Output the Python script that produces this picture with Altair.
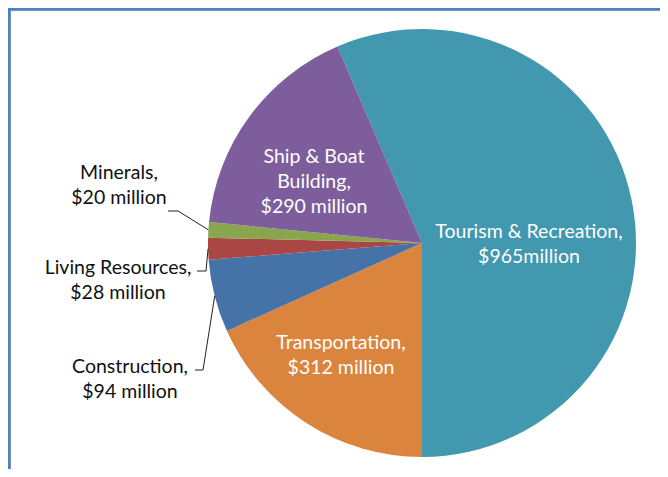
import math
import altair as alt
import pandas as pd

# ---- data ----
categories = ["Tourism & Recreation", "Transportation", "Construction",
              "Living Resources", "Minerals", "Ship & Boat Building"]
values = [965, 312, 94, 28, 20, 290]
label_lines = [
    ["Tourism & Recreation,", "$965million"],
    ["Transportation,", "$312 million"],
    ["Construction,", "$94 million"],
    ["Living Resources,", "$28 million"],
    ["Minerals,", "$20 million"],
    ["Ship & Boat", "Building,", "$290 million"],
]
colors = ["#4198AF", "#DB843D", "#4572A7", "#AA4643", "#89A54E", "#7E5D9C"]

# ---- layout (pixels, chart coordinates) ----
W, H = 652, 461
CX, CY, R = 414, 235, 214
FONT = "Lato"
FS = 19.5
LINE_H = 25
# label block: (center x, first line y, text colour)
label_layout = {
    "Tourism & Recreation": (521, 224, "#ffffff"),
    "Transportation": (333, 335, "#ffffff"),
    "Construction": (122, 359, "#111111"),
    "Living Resources": (110, 260, "#111111"),
    "Minerals": (111, 165, "#111111"),
    "Ship & Boat Building": (306, 149, "#ffffff"),
}
# leader line: (start x, elbow x, y) of the short horizontal tick
leader_layout = {
    "Minerals": (160, 170, 203),
    "Living Resources": (189, 198, 263),
    "Construction": (187, 195, 362),
}
BORDER = "#4F81BD"

total = sum(values)
t0 = math.pi - 2 * math.pi * values[0] / total  # first slice ends at 6 o'clock

pie_df = pd.DataFrame({"cat": categories, "value": values, "idx": list(range(len(values)))})

text_rows = []
for cat, lines in zip(categories, label_lines):
    x, y, col = label_layout[cat]
    for i, ln in enumerate(lines):
        text_rows.append({"x": x, "y": y + i * LINE_H, "t": ln, "tc": col})
text_df = pd.DataFrame(text_rows)

line_rows = []
cum = 0
for cat, v in zip(categories, values):
    mid = t0 + 2 * math.pi * (cum + v / 2) / total
    cum += v
    if cat in leader_layout:
        sx, ex, ly = leader_layout[cat]
        ax = CX + R * math.sin(mid)
        ay = CY - R * math.cos(mid)
        line_rows += [
            {"k": cat, "o": 0, "x": sx, "y": ly},
            {"k": cat, "o": 1, "x": ex, "y": ly},
            {"k": cat, "o": 2, "x": ax, "y": ay},
        ]
line_df = pd.DataFrame(line_rows)

pie = alt.Chart(pie_df).mark_arc(radius=R).encode(
    theta=alt.Theta("value:Q", stack=True,
                    scale=alt.Scale(range=[t0, t0 + 2 * math.pi])),
    color=alt.Color("cat:N", scale=alt.Scale(domain=categories, range=colors), legend=None),
    order=alt.Order("idx:Q"),
    x=alt.value(CX),
    y=alt.value(CY),
)

texts = alt.Chart(text_df).mark_text(font=FONT, fontSize=FS, baseline="middle", align="center").encode(
    x=alt.X("x:Q", scale=None),
    y=alt.Y("y:Q", scale=None),
    text="t:N",
    color=alt.Color("tc:N", scale=None),
)

leaders = alt.Chart(line_df).mark_line(color="#222222", strokeWidth=1).encode(
    x=alt.X("x:Q", scale=None),
    y=alt.Y("y:Q", scale=None),
    detail="k:N",
    order="o:Q",
)

left_border = alt.Chart(pie_df).mark_rule(color=BORDER, strokeWidth=2.5).encode(
    x=alt.value(1), y=alt.value(0), y2=alt.value(H)
)
top_border = alt.Chart(pie_df).mark_rule(color=BORDER, strokeWidth=2.5).encode(
    y=alt.value(1), x=alt.value(0), x2=alt.value(W)
)

chart = alt.layer(pie, leaders, texts, left_border, top_border).properties(
    width=W, height=H, padding=0, autosize=alt.AutoSizeParams(type="none"),
    background="#ffffff",
).configure_view(stroke=None)

chart.save("out.html", embed_options={"renderer": "svg", "actions": False})
